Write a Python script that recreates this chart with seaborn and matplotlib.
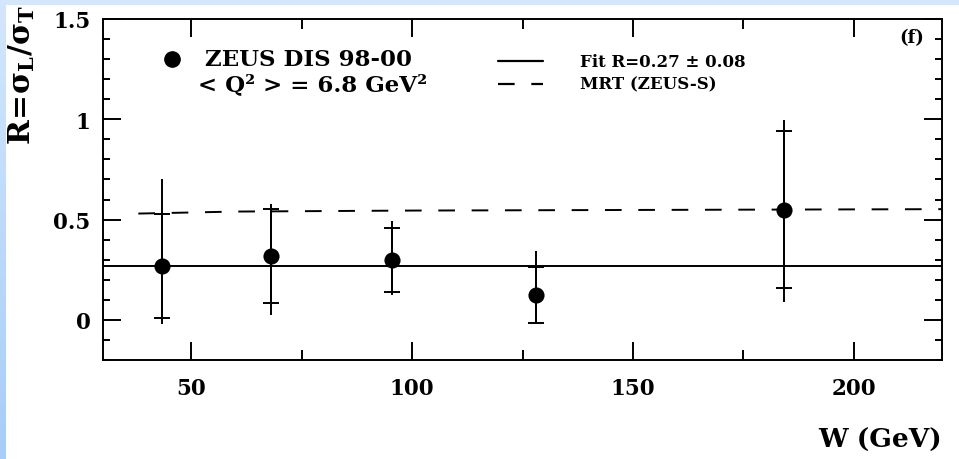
import numpy as np
import pandas as pd
import matplotlib
matplotlib.use("Agg")
import matplotlib.pyplot as plt
from matplotlib.ticker import MultipleLocator, FuncFormatter
from matplotlib.lines import Line2D
import seaborn as sns

# ZEUS DIS 98-00 measurement of R = sigma_L / sigma_T versus W
w_gev = [43.4, 68.1, 95.5, 128.0, 184.2]
r_val = [0.27, 0.32, 0.30, 0.125, 0.55]
r_stat = [0.26, 0.235, 0.16, 0.14, 0.39]
r_tot_up = [0.43, 0.258, 0.195, 0.216, 0.445]
r_tot_down = [0.29, 0.297, 0.176, 0.144, 0.46]

# constant fit
fit_r = 0.27
fit_err = 0.08
fit_w = [30.0, 220.0]

# MRT (ZEUS-S) prediction
mrt_w = [38.0, 60.0, 100.0, 150.0, 220.0]
mrt_r = [0.530, 0.540, 0.545, 0.548, 0.552]

x_ticks = [50, 100, 150, 200]
y_ticks = [0, 0.5, 1, 1.5]

sns.set_theme(style="ticks")
plt.rcParams.update({
    "font.family": ["DejaVu Serif"],
    "font.weight": "bold",
    "mathtext.fontset": "custom",
    "mathtext.rm": "DejaVu Serif:bold",
    "mathtext.it": "DejaVu Serif:bold",
    "mathtext.bf": "DejaVu Serif:bold",
    "lines.scale_dashes": False,
    "text.color": "black",
    "axes.edgecolor": "black",
    "xtick.color": "black",
    "ytick.color": "black",
})

W, H = 959, 460
fig = plt.figure(figsize=(W / 100, H / 100), dpi=100)
fig.patch.set_facecolor("white")

# light blue slide frame: top band and a shaded left band
fig.patches.append(plt.Rectangle((0, 1 - 6 / H), 1, 6 / H, transform=fig.transFigure,
                                 facecolor="#d4e6fc", edgecolor="none", zorder=0))
band = fig.add_axes([0, 0, 6 / W, 1 - 6 / H])
grad = np.linspace(0, 1, 256)[:, None]
band.imshow(grad, aspect="auto", cmap=matplotlib.colors.LinearSegmentedColormap.from_list(
    "band", ["#d4e6fc", "#a6cdfb"]), extent=[0, 1, 0, 1], origin="upper")
band.set_axis_off()

ax = fig.add_axes([103 / W, 1 - 361 / H, 839 / W, 341 / H])
ax.set_facecolor("white")

df = pd.DataFrame({"W": w_gev, "R": r_val})

# error bars: full extent without caps, statistical part marked by caps
ax.errorbar(w_gev, r_val, yerr=[r_tot_down, r_tot_up], fmt="none",
            ecolor="black", elinewidth=1.4, capsize=0, zorder=3)
ax.errorbar(w_gev, r_val, yerr=r_stat, fmt="none", ecolor="black",
            elinewidth=1.4, capsize=6, capthick=1.4, zorder=3)

sns.lineplot(x=fit_w, y=[fit_r] * len(fit_w), color="black", linewidth=1.4,
             ax=ax, legend=False, zorder=2)
sns.lineplot(x=mrt_w, y=mrt_r, color="black", linewidth=1.4,
             linestyle=(0, (12, 12)), ax=ax, legend=False, zorder=2)
sns.scatterplot(data=df, x="W", y="R", s=135, color="black", edgecolor="black",
                linewidth=0, ax=ax, zorder=5, legend=False)

ax.set_xlim(30, 220)
ax.set_ylim(-0.2, 1.5)
ax.set_xticks(x_ticks)
ax.set_yticks(y_ticks)
ax.xaxis.set_minor_locator(MultipleLocator(25))
ax.yaxis.set_minor_locator(MultipleLocator(0.1))
ax.yaxis.set_major_formatter(FuncFormatter(lambda v, p: f"{v:g}"))
ax.tick_params(which="both", direction="in", top=True, right=True,
               width=1.4, color="black", labelsize=15.5)
ax.tick_params(axis="x", which="major", length=13, pad=12)
ax.tick_params(axis="x", which="minor", length=7)
ax.tick_params(axis="y", which="major", length=13, pad=9)
ax.tick_params(axis="y", which="minor", length=5)
for s in ax.spines.values():
    s.set_linewidth(1.4)
    s.set_color("black")
ax.set_xlabel("")
ax.set_ylabel("")

fig.text(942 / W, 1 - 440 / H, "W (GeV)", ha="right", va="center", fontsize=19,
         fontweight="bold")
fig.text(22 / W, 1 - 5 / H, r"$R\!=\!\sigma_{L}/\sigma_{T}$", rotation=90,
         ha="center", va="top", fontsize=21.5)

# legend block
ax.plot([0.0826], [0.8827], "o", color="black", markersize=11, transform=ax.transAxes)
ax.text(0.1216, 0.8827, "ZEUS DIS 98-00", transform=ax.transAxes, ha="left",
        va="center", fontsize=16.5, fontweight="bold")
ax.text(0.1132, 0.808, "< Q\u00b2 > = 6.8 GeV\u00b2", transform=ax.transAxes, ha="left",
        va="center", fontsize=16.5, fontweight="bold")

ax.add_line(Line2D([0.4708, 0.5244], [0.8768, 0.8768], color="black", lw=1.6,
                   transform=ax.transAxes))
ax.text(0.5685, 0.8768, "Fit R=%.2f \u00b1 %.2f" % (fit_r, fit_err), transform=ax.transAxes,
        ha="left", va="center", fontsize=12, fontweight="bold")
ax.add_line(Line2D([0.4708, 0.5244], [0.8094, 0.8094], color="black", lw=1.6,
                   linestyle=(0, (12, 12)), transform=ax.transAxes))
ax.text(0.5685, 0.8094, "MRT (ZEUS-S)", transform=ax.transAxes, ha="left",
        va="center", fontsize=12, fontweight="bold")

ax.text(0.964, 0.947, "(f)", transform=ax.transAxes, ha="center", va="center",
        fontsize=13, fontweight="bold")

fig.savefig("out.png", dpi=100)
